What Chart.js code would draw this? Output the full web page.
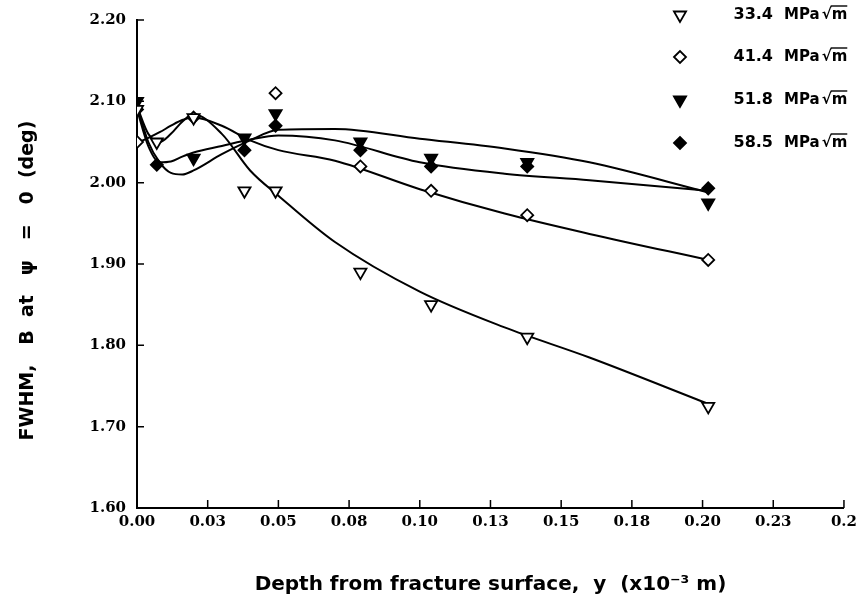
<!DOCTYPE html>
<html>
<head>
<meta charset="utf-8">
<script src="https://cdn.jsdelivr.net/npm/chart.js@4.4.1/dist/chart.umd.min.js"></script>
<style>
  body { margin: 0; background: #fff; }
  #wrap { width: 862px; height: 612px; }
</style>
</head>
<body>
<div id="wrap"><canvas id="fwhm-chart" width="862" height="612"></canvas></div>
<script>
// measured depths (x10^-3 m) and FWHM values per stress intensity
const depth = [0, 0.007, 0.02, 0.038, 0.049, 0.079, 0.104, 0.138, 0.202];
const k334 = [2.09, 2.05, 2.08, 1.99, 1.99, 1.89, 1.85, 1.81, 1.725];
const k414 = [2.05, null, 2.08, null, 2.11, 2.02, 1.99, 1.96, 1.905];
const k518 = [2.10, null, 2.03, 2.055, 2.085, 2.05, 2.03, 2.025, 1.975];
const k585 = [2.09, 2.022, null, 2.04, 2.07, 2.04, 2.02, 2.02, 1.993];

// fitted curves
const fitDepth = [0, 0.004, 0.008, 0.012, 0.016, 0.02, 0.03, 0.04, 0.05, 0.07, 0.1, 0.13, 0.16, 0.202];
const fit334 = [2.094, 2.06, 2.05, 2.06, 2.075, 2.084, 2.06, 2.015, 1.984, 1.927, 1.866, 1.822, 1.785, 1.728];
const fit414 = [2.049, 2.055, 2.062, 2.07, 2.077, 2.08, 2.07, 2.052, 2.04, 2.027, 1.992, 1.962, 1.937, 1.905];
const fit518 = [2.095, 2.05, 2.025, 2.012, 2.01, 2.015, 2.035, 2.052, 2.065, 2.066, 2.054, 2.042, 2.025, 1.988];
const fit585 = [2.09, 2.045, 2.025, 2.026, 2.032, 2.037, 2.045, 2.053, 2.058, 2.052, 2.025, 2.011, 2.003, 1.99];

const seriesNames = ['33.4', '41.4', '51.8', '58.5'];
const xTickLabels = ['0.00', '0.03', '0.05', '0.08', '0.10', '0.13', '0.15', '0.18', '0.20', '0.23', '0.2'];

function pts(xs, ys) {
  const out = [];
  xs.forEach((x, i) => { if (ys[i] !== null) out.push({ x: x, y: ys[i] }); });
  return out;
}

const markerStyles = [
  { pointStyle: 'triangle', rotation: 180, radius: 7, fill: '#fff' },
  { pointStyle: 'rectRot', rotation: 0, radius: 6, fill: '#fff' },
  { pointStyle: 'triangle', rotation: 180, radius: 7, fill: '#000' },
  { pointStyle: 'rectRot', rotation: 0, radius: 6, fill: '#000' }
];

const markerData = [k334, k414, k518, k585];
const fitData = [fit334, fit414, fit518, fit585];

const datasets = [];
fitData.forEach((f, i) => {
  datasets.push({
    label: 'fit ' + seriesNames[i],
    data: pts(fitDepth, f),
    showLine: true,
    borderColor: '#000',
    borderWidth: 2,
    pointRadius: 0,
    cubicInterpolationMode: 'monotone',
    order: 2
  });
});
markerData.forEach((m, i) => {
  const s = markerStyles[i];
  datasets.push({
    label: seriesNames[i],
    data: pts(depth, m),
    showLine: false,
    pointStyle: s.pointStyle,
    rotation: s.rotation,
    pointRadius: s.radius,
    backgroundColor: s.fill,
    borderColor: '#000',
    borderWidth: 1.8,
    order: 1
  });
});

// short tick marks pointing into the plot
const innerTicks = {
  id: 'innerTicks',
  afterDraw(chart) {
    const ctx = chart.ctx;
    const xs = chart.scales.x, ys = chart.scales.y;
    const area = chart.chartArea;
    ctx.save();
    ctx.strokeStyle = '#000';
    ctx.lineWidth = 1.5;
    ctx.beginPath();
    xs.ticks.forEach(t => {
      const px = xs.getPixelForValue(t.value);
      ctx.moveTo(px, area.bottom);
      ctx.lineTo(px, area.bottom - 8);
    });
    ys.ticks.forEach(t => {
      const py = ys.getPixelForValue(t.value);
      ctx.moveTo(area.left, py);
      ctx.lineTo(area.left + 7, py);
    });
    ctx.stroke();
    ctx.restore();
  }
};

// legend in the top right corner
const cornerLegend = {
  id: 'cornerLegend',
  afterDraw(chart) {
    const ctx = chart.ctx;
    const rows = [15, 57, 100, 143];
    ctx.save();
    seriesNames.forEach((name, i) => {
      const s = markerStyles[i];
      ctx.fillStyle = s.fill;
      ctx.strokeStyle = '#000';
      ctx.lineWidth = 1.8;
      Chart.helpers.drawPoint(ctx, { pointStyle: s.pointStyle, rotation: s.rotation, radius: s.radius, borderWidth: 1.8 }, 680, rows[i]);
      ctx.fillStyle = '#000';
      ctx.font = 'bold 16px "DejaVu Sans"';
      ctx.textBaseline = 'middle';
      ctx.textAlign = 'right';
      ctx.fillText(name, 773, rows[i]);
      ctx.textAlign = 'left';
      ctx.font = 'bold 15px "DejaVu Sans"';
      ctx.fillText('MPa', 784, rows[i]);
      const w1 = ctx.measureText('MPa').width;
      const sx = 784 + w1 + 2;
      ctx.fillText('\u221A', sx, rows[i]);
      const w2 = ctx.measureText('\u221A').width;
      ctx.fillText('m', sx + w2, rows[i]);
      const w3 = ctx.measureText('m').width;
      ctx.beginPath();
      ctx.lineWidth = 1.4;
      ctx.moveTo(sx + w2 - 1, rows[i] - 9);
      ctx.lineTo(sx + w2 + w3, rows[i] - 9);
      ctx.stroke();
    });
    ctx.restore();
  }
};

new Chart(document.getElementById('fwhm-chart'), {
  type: 'scatter',
  data: { datasets: datasets },
  plugins: [innerTicks, cornerLegend],
  options: {
    responsive: false,
    animation: false,
    layout: { padding: { top: 14, right: 14, left: 0, bottom: 0 } },
    plugins: { legend: { display: false }, tooltip: { enabled: false } },
    scales: {
      x: {
        type: 'linear',
        min: 0,
        max: 0.25,
        afterFit(scale) { scale.height = 104; },
        ticks: {
          stepSize: 0.025,
          padding: 5,
          color: '#000',
          font: { family: '"DejaVu Serif"', weight: 'bold', size: 15 },
          maxRotation: 0,
          autoSkip: false,
          callback: (v, i) => xTickLabels[i]
        },
        grid: { display: false, drawTicks: false },
        border: { display: true, color: '#000', width: 2 },
        title: {
          display: true,
          text: 'Depth from fracture surface,  y  (x10\u207B\u00B3 m)',
          color: '#000',
          font: { family: '"DejaVu Sans"', weight: 'bold', size: 20 },
          padding: { top: 15, bottom: 15 }
        }
      },
      y: {
        min: 1.6,
        max: 2.2,
        afterFit(scale) { scale.width = 137; },
        ticks: {
          stepSize: 0.1,
          padding: 11,
          color: '#000',
          font: { family: '"DejaVu Serif"', weight: 'bold', size: 15 },
          callback: v => v.toFixed(2)
        },
        grid: { display: false, drawTicks: false },
        border: { display: true, color: '#000', width: 2 },
        title: {
          display: true,
          text: 'FWHM,   B  at   \u03C8   =   0  (deg)     ',
          color: '#000',
          font: { family: '"DejaVu Sans"', weight: 'bold', size: 19 },
          padding: { top: 17, bottom: 17 }
        }
      }
    }
  }
});
</script>
</body>
</html>
